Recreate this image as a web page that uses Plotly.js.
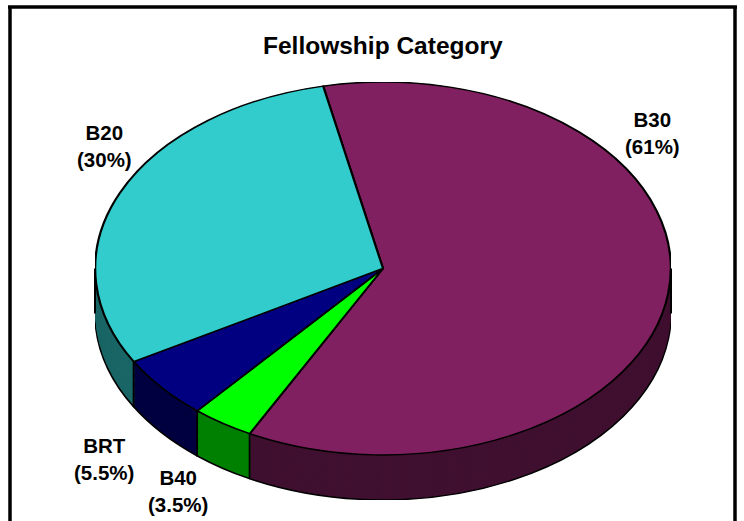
<!DOCTYPE html>
<html>
<head>
<meta charset="utf-8">
<script src="https://cdn.plot.ly/plotly-3.0.1.min.js"></script>
<style>
  html, body { margin: 0; padding: 0; background: #ffffff; }
  #wrap { position: relative; width: 744px; height: 521px; overflow: hidden; background: #ffffff; }
  #pie { position: absolute; transform-origin: 0 0; }
  #over { position: absolute; left: 0; top: 0; width: 744px; height: 521px; }
</style>
</head>
<body>
<div id="wrap">
  <div id="pie"></div>
  <div id="over"></div>
</div>
<script>
// ---- data ----
const categories = ["B30", "B40", "BRT", "B20"];
const values = [61, 3.5, 5.5, 30];
const labelTexts = ["B30<br>(61%)", "B40<br>(3.5%)", "BRT<br>(5.5%)", "B20<br>(30%)"];
const topColors = ["#802060", "#00FF00", "#000080", "#33CCCC"];
const sideColors = ["#401030", "#008000", "#000040", "#1A6666"];
const chartTitle = "Fellowship Category";

// ---- geometry of the tilted pie (screen pixels) ----
const cx = 383, cy = 268.6, rx = 288, ry = 186.6, depth = 45;
const rotationDeg = -12;
const s = ry / rx;                  // vertical squash
const D = depth / s;                // depth before squash
const W = 2 * rx;                   // pie diameter before squash
const H = W + D;

const pieDiv = document.getElementById('pie');
pieDiv.style.left = (cx - rx) + 'px';
pieDiv.style.top = (cy - ry) + 'px';
pieDiv.style.width = W + 'px';
pieDiv.style.height = H + 'px';
pieDiv.style.transform = 'scaleY(' + s + ')';

function pieLayer(offset, colors, lineW) {
  return {
    type: 'pie',
    labels: categories,
    values: values,
    sort: false,
    direction: 'clockwise',
    rotation: rotationDeg,
    textinfo: 'none',
    hoverinfo: 'none',
    showlegend: false,
    marker: { colors: colors, line: { color: '#000000', width: lineW } },
    domain: { x: [0, 1], y: [(H - W - offset) / H, (H - offset) / H] }
  };
}

const traces = [];
const nLayers = 40;
for (let i = 0; i <= nLayers; i++) {
  const off = D * (nLayers - i) / nLayers;
  if (i === 0) traces.push(pieLayer(off, sideColors, 2.2));
  else traces.push(pieLayer(off, sideColors, 0));
}
traces.push(pieLayer(0, topColors, 2.2));

Plotly.newPlot(pieDiv, traces, {
  width: W, height: H,
  margin: { l: 0, r: 0, t: 0, b: 0 },
  paper_bgcolor: 'rgba(0,0,0,0)',
  plot_bgcolor: 'rgba(0,0,0,0)',
  showlegend: false
}, { staticPlot: true, displayModeBar: false });

// ---- overlay: title, labels, border, side edges ----
const shapes = [];
// chart frame
shapes.push({ type: 'line', x0: 10, x1: 10, y0: 7, y1: 530, line: { color: '#000', width: 3.5 } });
shapes.push({ type: 'line', x0: 8, x1: 737, y0: 7, y1: 7, line: { color: '#000', width: 3.5 } });
shapes.push({ type: 'line', x0: 735, x1: 735, y0: 7, y1: 530, line: { color: '#000', width: 3.5 } });

// vertical edges of the pie side, derived from the slice boundaries
const total = values.reduce((a, b) => a + b, 0);
let cum = 0;
const bAngles = [];
for (let i = 0; i < values.length; i++) {
  bAngles.push(rotationDeg + cum / total * 360);
  cum += values[i];
}
bAngles.forEach(a => {
  const t = a * Math.PI / 180;
  if (Math.cos(t) < 0) {
    const x = cx + rx * Math.sin(t);
    const y = cy - ry * Math.cos(t);
    shapes.push({ type: 'line', x0: x, x1: x, y0: y, y1: y + depth, line: { color: '#000', width: 1.8 } });
  }
});
[cx - rx, cx + rx].forEach(x => {
  shapes.push({ type: 'line', x0: x, x1: x, y0: cy, y1: cy + depth, line: { color: '#000', width: 2 } });
});

const labelPos = [[652, 133], [178, 491], [104, 459], [104, 146]];
const annotations = [{
  text: '<b>' + chartTitle + '</b>', x: 383, y: 45, xref: 'x', yref: 'y', showarrow: false,
  xanchor: 'center', yanchor: 'middle',
  font: { family: 'Liberation Sans, Arial, sans-serif', size: 24.5, color: '#000' }
}];
labelTexts.forEach((t, i) => {
  annotations.push({
    text: '<b>' + t + '</b>', x: labelPos[i][0], y: labelPos[i][1], xref: 'x', yref: 'y',
    showarrow: false, xanchor: 'center', yanchor: 'middle', align: 'center',
    font: { family: 'Liberation Sans, Arial, sans-serif', size: 20.5, color: '#000' }
  });
});

Plotly.newPlot('over', [], {
  width: 744, height: 521,
  margin: { l: 0, r: 0, t: 0, b: 0 },
  paper_bgcolor: 'rgba(0,0,0,0)',
  plot_bgcolor: 'rgba(0,0,0,0)',
  xaxis: { range: [0, 744], visible: false, fixedrange: true },
  yaxis: { range: [521, 0], visible: false, fixedrange: true },
  shapes: shapes,
  annotations: annotations,
  showlegend: false
}, { staticPlot: true, displayModeBar: false });
</script>
</body>
</html>
